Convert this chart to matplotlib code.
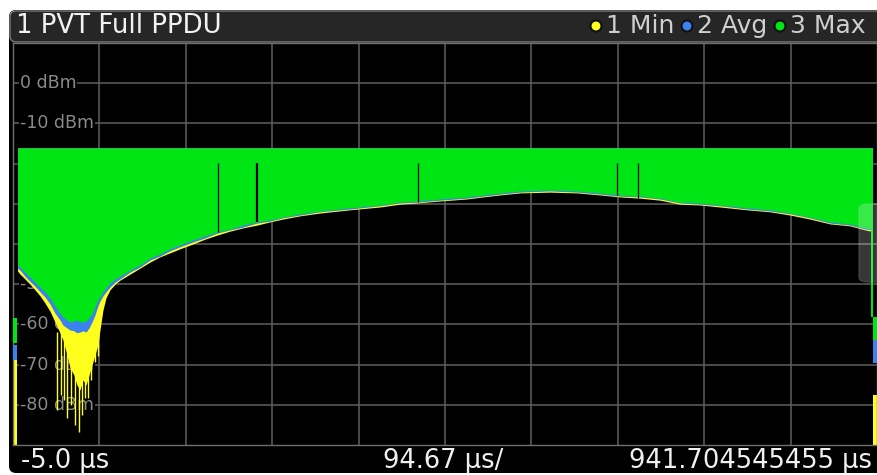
import matplotlib
matplotlib.use("Agg")
import matplotlib.pyplot as plt
from matplotlib.patches import FancyBboxPatch, Circle
from matplotlib.transforms import IdentityTransform, blended_transform_factory

# ---------------- data ----------------
title = "1 PVT Full PPDU"
legend_labels = ["1 Min", "2 Avg", "3 Max"]
x_start, x_stop, x_div = -5.0, 941.704545455, 94.67   # µs
y_ref_labels = [0, -10, -20, -30, -40, -50, -60, -70, -80]  # dBm
y_min, y_max = -90, 10

# time points (µs) of the lower envelope of the burst
t_env = [0.0, 2.7, 8.1, 13.6, 19.1, 24.6, 30.1, 35.5, 41.0, 46.5,
         49.8, 54.2, 57.5, 61.8, 65.1, 68.4, 71.7, 75.0, 78.3, 81.6,
         84.8, 88.1, 90.3, 93.6, 96.9, 101.3, 106.8, 112.2, 123.2, 134.2,
         145.1, 156.1, 167.0, 178.0, 192.2, 205.4, 218.5, 232.8, 247.0, 262.4,
         276.6, 290.8, 309.5, 331.4, 364.3, 397.1, 419.0, 437.7, 462.9, 492.4,
         510.0, 528.6, 550.5, 583.4, 613.0, 638.2, 660.1, 682.0, 703.9, 725.8,
         747.7, 769.7, 799.2, 824.4, 846.4, 868.3, 890.2, 912.1, 928.5, 935.1]
# lower edge of the Max trace (dBm)
max_low = [-45.2, -45.7, -47.0, -48.2, -49.5, -50.7, -51.9, -53.4, -55.4, -57.2,
           -58.2, -58.9, -59.4, -59.2, -58.9, -59.4, -59.4, -59.2, -58.4, -57.4,
           -55.7, -53.9, -53.2, -51.9, -50.9, -49.7, -48.7, -48.0, -46.5, -45.2,
           -43.5, -42.5, -41.2, -40.2, -39.0, -38.0, -37.0, -36.3, -35.3, -34.5,
           -34.0, -33.3, -32.5, -31.8, -31.0, -30.3, -29.6, -29.3, -28.8, -28.3,
           -27.8, -27.3, -26.8, -26.6, -26.8, -27.3, -27.8, -28.1, -28.6, -29.6,
           -29.8, -30.3, -31.0, -31.5, -32.3, -33.3, -34.5, -35.0, -36.0, -36.3]
# lower edge of the Avg trace (dBm)
avg_low = [-46.0, -46.5, -48.0, -49.3, -50.5, -51.9, -53.2, -54.9, -57.2, -58.9,
           -60.2, -60.9, -61.4, -61.6, -62.1, -61.9, -61.6, -61.9, -60.9, -59.4,
           -57.7, -55.4, -54.2, -52.9, -51.9, -50.7, -49.5, -48.7, -47.0, -45.7,
           -44.0, -43.0, -41.7, -40.7, -39.5, -38.5, -37.3, -36.5, -35.8, -34.8,
           -34.3, -33.5, -32.8, -32.0, -31.3, -30.5, -29.8, -29.6, -29.1, -28.6,
           -28.1, -27.6, -27.1, -26.8, -27.1, -27.6, -28.1, -28.3, -28.8, -29.8,
           -30.1, -30.5, -31.3, -31.8, -32.5, -33.5, -34.8, -35.3, -36.3, -36.5]
# lower edge of the Min trace (dBm)
min_low = [-46.7, -47.5, -48.7, -50.0, -51.4, -52.9, -54.7, -56.7, -59.4, -62.1,
           -63.9, -67.6, -70.8, -72.6, -75.1, -76.3, -73.8, -75.1, -72.6, -70.1,
           -67.6, -65.1, -61.4, -56.4, -53.4, -51.4, -50.0, -49.0, -47.5, -46.0,
           -44.5, -43.2, -42.2, -41.2, -40.0, -38.8, -37.8, -36.8, -36.0, -35.3,
           -34.5, -33.8, -33.0, -32.3, -31.5, -30.8, -30.1, -29.8, -29.3, -28.8,
           -28.3, -27.8, -27.3, -27.1, -27.3, -27.8, -28.3, -28.6, -29.1, -30.1,
           -30.3, -30.8, -31.5, -32.0, -32.8, -33.8, -35.0, -35.5, -36.5, -36.8]
max_top = -16.1   # dBm, upper level of the burst

# deep spikes of the Min trace in the notch
spike_t = [43.2, 47.6, 50.9, 54.2, 58.6, 62.9, 67.3, 70.6, 73.9, 77.2, 80.5, 84.8, 88.1]
spike_dbm = [-81.3, -77.6, -78.8, -83.3, -80.1, -85.0, -86.8, -82.5, -78.3, -78.3, -73.8, -69.4, -67.9]

# short dropouts of the Max trace
gap_t = [219.6, 262.4, 438.8, 656.8, 679.8]
gap_top = [-19.9, -19.9, -19.9, -19.9, -19.9]
gap_bottom = [-37.0, -34.5, -29.6, -27.8, -28.6]

# noise before / after the burst: (t0, t1) and ranges per trace
noise_left_t = [-5.0, -0.6]
noise_left_max = [-64.7, -58.4]
noise_left_avg = [-68.9, -65.1]
noise_left_min = [-90.0, -68.9]
fall_t = [935.1, 937.3]
fall_max = [-58.2, -16.1]
noise_right_t = [937.3, 941.7]
noise_right_max = [-63.9, -58.2]
noise_right_avg = [-69.6, -63.9]
noise_right_min = [-90.0, -77.6]

# ---------------- style ----------------
C_MIN = "#ffff1e"
C_AVG = "#3b82f0"
C_MAX = "#00e514"
GRID = "#5e5e5e"
W, H = 877, 475

fig = plt.figure(figsize=(W / 100, H / 100), dpi=100, facecolor="white")
ident = IdentityTransform()

def px(x, y_top):
    """figure pixel (from top-left) -> display coords"""
    return x, H - y_top

# outer dark frame
x0, y0 = px(9, 473)
frame = FancyBboxPatch((x0, y0), 900, 463, boxstyle="round,pad=0,rounding_size=7",
                       transform=ident, facecolor="black", edgecolor="none", zorder=-5)
fig.patches.append(frame)
# header bar
hx, hy = px(10, 42)
header = FancyBboxPatch((hx, hy), 900, 31, boxstyle="round,pad=0,rounding_size=6",
                        transform=ident, facecolor="#262626", edgecolor="#7c7c7c",
                        linewidth=1.0, zorder=-4)
fig.patches.append(header)

ax = fig.add_axes([13 / W, 30 / H, 864 / W, 402 / H])
ax.set_facecolor("black")
ax.set_xlim(x_start, x_stop)
ax.set_ylim(y_min, y_max)
ax.set_xticks([])
ax.set_yticks([])
for s in ax.spines.values():
    s.set_color("#6e6e6e")
    s.set_linewidth(1.0)

# grid
for k in range(1, 10):
    ax.axvline(x_start + k * x_div, color=GRID, lw=1.1, zorder=0.5)
for v in y_ref_labels:
    ax.axhline(v, color=GRID, lw=1.1, zorder=0.5)

# level labels (drawn below the traces)
btr = blended_transform_factory(ax.transAxes, ax.transData)
for v in y_ref_labels:
    ax.text(0.008, v, f"{v} dBm", transform=btr, ha="left", va="center",
            fontsize=12.5, color="#8a8a8a", zorder=1,
            bbox=dict(facecolor="black", edgecolor="none", pad=0.6))

# traces: Min, Avg, Max (Max drawn last, on top)
ax.fill_between(t_env, min_low, max_top, color=C_MIN, lw=0, zorder=2)
ax.vlines(spike_t, spike_dbm, -62, color=C_MIN, lw=1.0, zorder=2)
ax.fill_between(t_env, avg_low, max_top, color=C_AVG, lw=0, zorder=3)
ax.fill_between(t_env, max_low, max_top, color=C_MAX, lw=0, zorder=4)
ax.vlines(gap_t, gap_bottom, gap_top, color="black", lw=[0.9, 1.6, 0.9, 0.9, 0.9], zorder=5)

# noise segments outside the burst
ax.fill_between(noise_left_t, noise_left_min[0], noise_left_min[1], color=C_MIN, lw=0, zorder=2)
ax.fill_between(noise_left_t, noise_left_avg[0], noise_left_avg[1], color=C_AVG, lw=0, zorder=3)
ax.fill_between(noise_left_t, noise_left_max[0], noise_left_max[1], color=C_MAX, lw=0, zorder=4)
ax.fill_between(fall_t, fall_max[0], fall_max[1], color=C_MAX, lw=0, zorder=4)
ax.fill_between(noise_right_t, noise_right_min[0], noise_right_min[1], color=C_MIN, lw=0, zorder=2)
ax.fill_between(noise_right_t, noise_right_avg[0], noise_right_avg[1], color=C_AVG, lw=0, zorder=3)
ax.fill_between(noise_right_t, noise_right_max[0], noise_right_max[1], color=C_MAX, lw=0, zorder=4)

# translucent scroll handle at the right edge
handle = FancyBboxPatch((0.979, 0.405), 0.05, 0.195, boxstyle="round,pad=0,rounding_size=0.012",
                        transform=ax.transAxes, facecolor="white", alpha=0.22,
                        edgecolor="#cfcfcf", linewidth=0.8, zorder=6, clip_on=False)
ax.add_patch(handle)

# header texts
fig.text(16 / W, (H - 26) / H, title, ha="left", va="center", fontsize=18.7,
         color="#f2f2f2", family="DejaVu Sans")
dot_x = [596, 687, 780]
txt_x = [606, 697, 790]
for lab, c, dx, tx in zip(legend_labels, [C_MIN, C_AVG, C_MAX], dot_x, txt_x):
    cx, cy = px(dx, 26)
    fig.patches.append(Circle((cx, cy), 5.5, transform=ident, facecolor=c,
                              edgecolor="#111111", linewidth=1.5, zorder=3))
    fig.text(tx / W, (H - 26) / H, lab, ha="left", va="center", fontsize=18,
             color="#cfcfcf", family="DejaVu Sans")

# footer texts
fy = (H - 461) / H
fig.text(21 / W, fy, f"{x_start:.1f} µs", ha="left", va="center", fontsize=18.5, color="#f0f0f0")
fig.text(443 / W, fy, f"{x_div:.2f} µs/", ha="center", va="center", fontsize=18.5, color="#f0f0f0")
fig.text(872 / W, fy, f"{x_stop:.9f} µs", ha="right", va="center", fontsize=18.5, color="#f0f0f0")

fig.savefig("out.png", dpi=100, facecolor="white")
